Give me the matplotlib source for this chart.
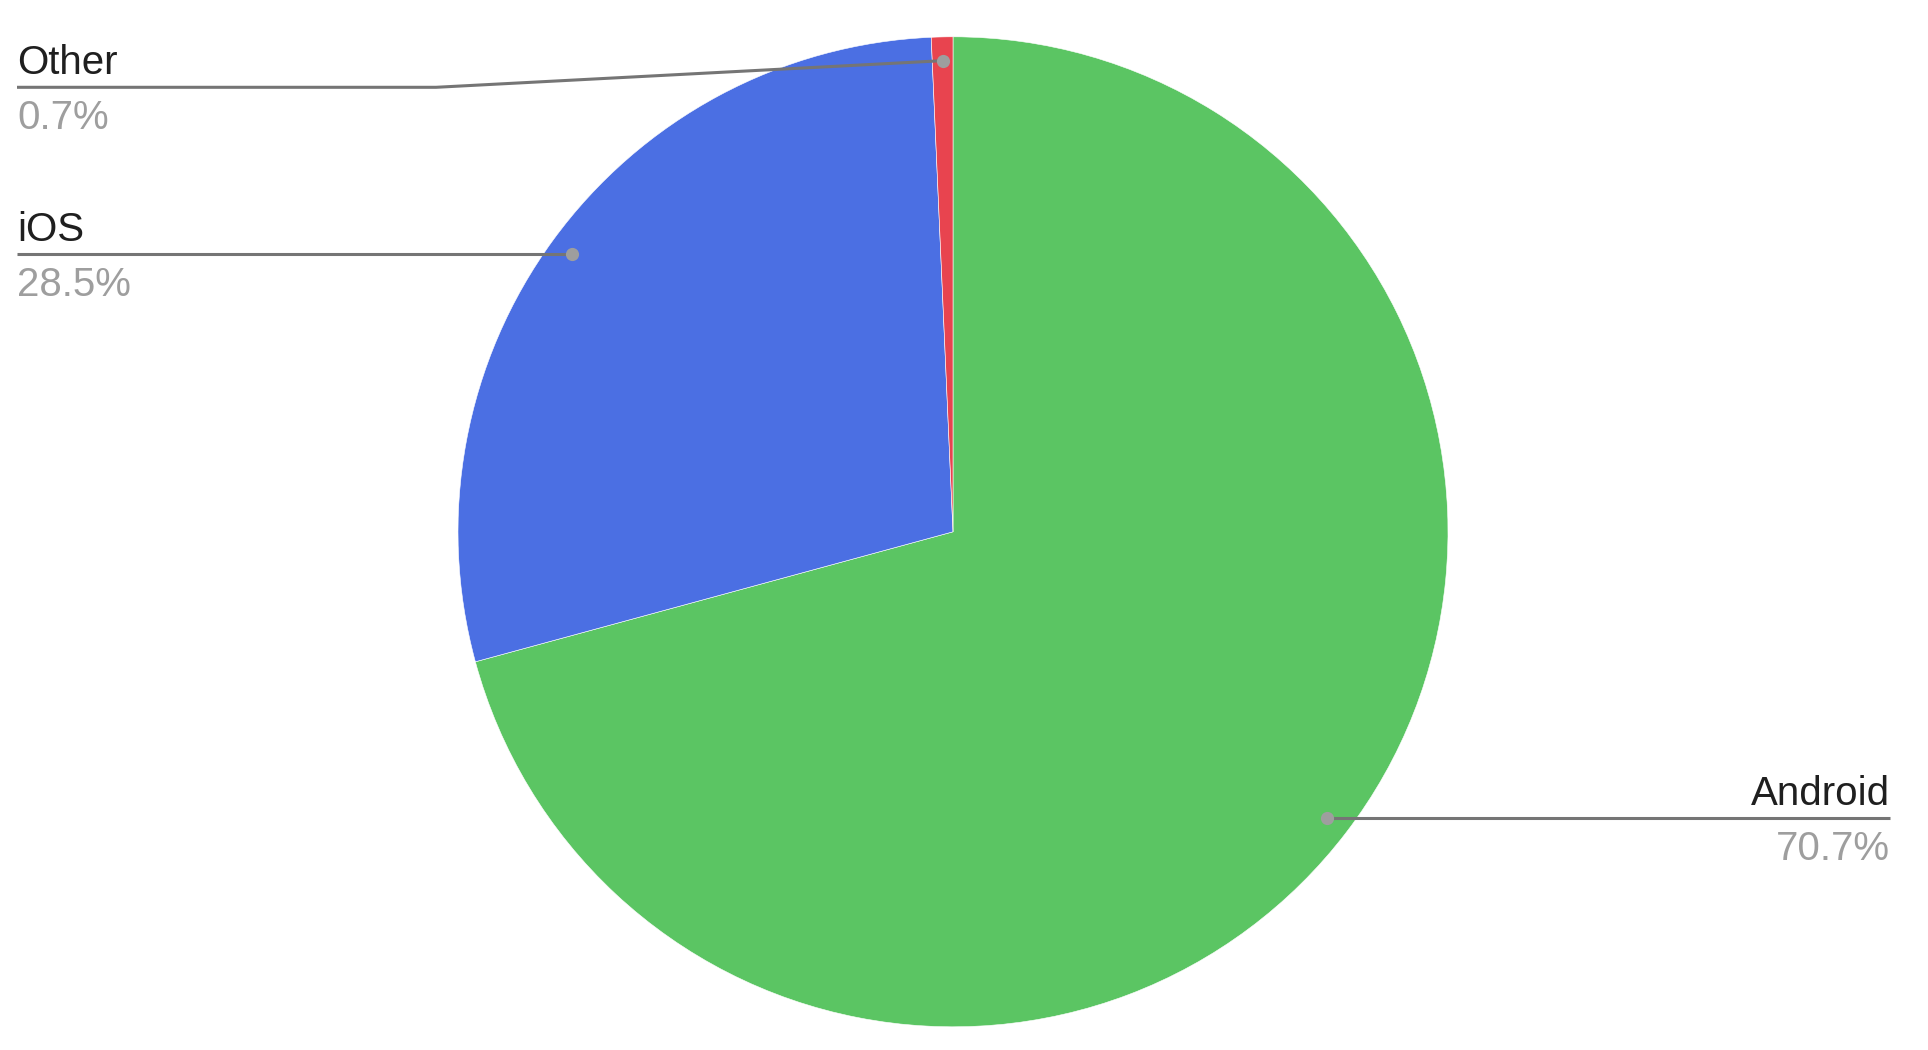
import numpy as np
import matplotlib
matplotlib.use("Agg")
import matplotlib.pyplot as plt

labels = ["Android", "iOS", "Other"]
shares = [70.7, 28.5, 0.7]
pct_labels = ["70.7%", "28.5%", "0.7%"]
colors = ["#5bc563", "#4b6fe3", "#e8444f"]

W, H = 1928, 1050
fig = plt.figure(figsize=(W / 100, H / 100), dpi=100)
ax = fig.add_axes([0, 0, 1, 1])

cx, cy, r = 953, H - 531.8, 495
wedges, _ = ax.pie(shares, colors=colors, startangle=90, counterclock=False,
                   center=(cx, cy), radius=r, frame=True,
                   wedgeprops=dict(edgecolor="white", linewidth=0.4))
ax.set_xlim(0, W)
ax.set_ylim(0, H)
ax.set_aspect("equal")
ax.axis("off")

line_c = "#757575"
dot_c = "#9e9e9e"
fs = 29
font = "Liberation Sans"

# label layout: (line y in px from top, text x, alignment)
layout = {
    "Android": (None, 1890, "right"),
    "iOS": (None, 17, "left"),
    "Other": (87.3, 17, "left"),
}

for w, lab, pct in zip(wedges, labels, pct_labels):
    mid = np.deg2rad((w.theta1 + w.theta2) / 2)
    dx = cx + 0.952 * r * np.cos(mid)
    dy = cy + 0.952 * r * np.sin(mid)
    ly, tx, ha = layout[lab]
    ly = dy if ly is None else H - ly
    if lab == "Other":
        ax.plot([dx, 436, tx], [dy, ly, ly], color=line_c, lw=2.2, zorder=3,
                solid_capstyle="butt")
    else:
        ax.plot([dx, tx], [ly, ly], color=line_c, lw=2.2, zorder=3,
                solid_capstyle="butt")
    ax.plot(dx, dy, "o", color=dot_c, ms=9.5, zorder=4, markeredgewidth=0)
    ax.text(tx, ly + 13, lab, ha=ha, va="baseline", fontsize=fs,
            color="#1f1f1f", family=font)
    ax.text(tx, ly - 42, pct, ha=ha, va="baseline", fontsize=fs,
            color="#9e9e9e", family=font)

fig.savefig("out.png", dpi=100, facecolor="white")
